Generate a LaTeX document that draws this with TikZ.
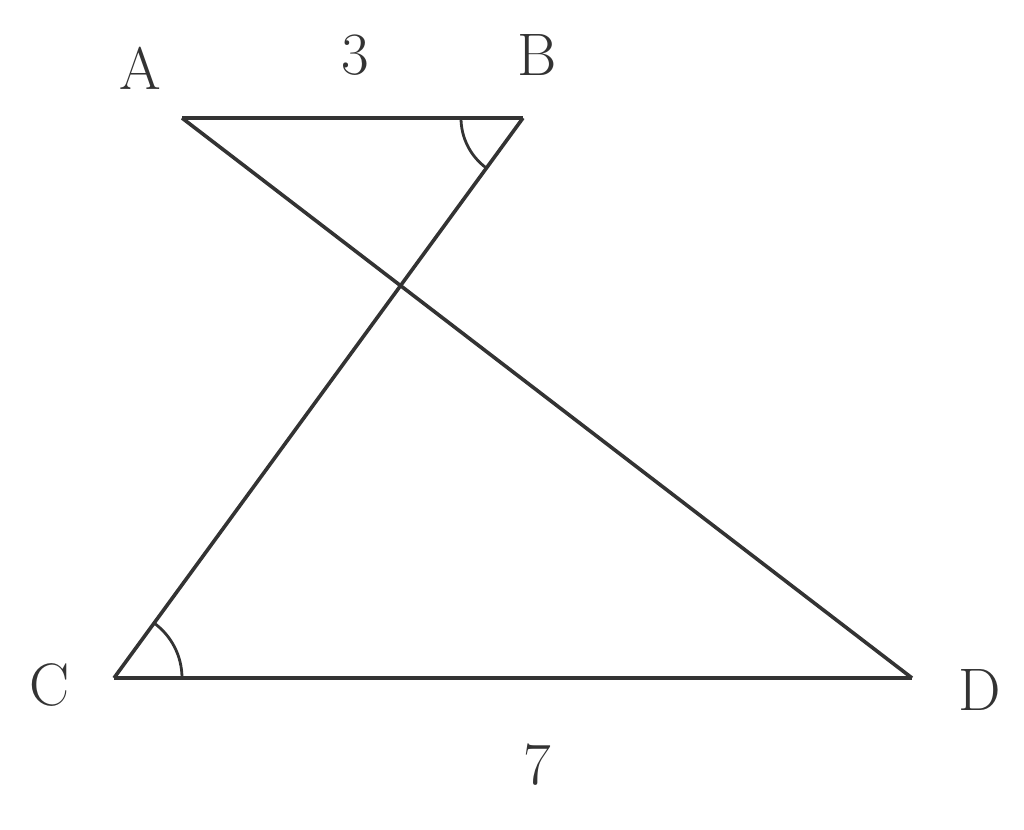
\documentclass[tikz,border=0pt]{standalone}
\usepackage{amsmath}
\usepackage{tikz}

\begin{document}
\begin{tikzpicture}[x=0.5pt,y=0.5pt,line width=1.8pt,draw=black!80,
  lbl/.style={inner sep=0pt,font=\fontsize{30}{36}\selectfont,text=black!80}]
%set diagram frame: 1024 x 830
\useasboundingbox (0,0) rectangle (1024,830);

%Points
\coordinate (A) at (182,712);
\coordinate (B) at (523,712);
\coordinate (C) at (114,152);
\coordinate (D) at (912,152);

%Straight Lines
\draw (A) -- (B);
\draw (B) -- (C);
\draw (A) -- (D);
\draw (C) -- (D);

%Angle marks
\draw[line width=1.4pt] ([shift={(180:62)}]B) arc[start angle=180,end angle=234,radius=62];
\draw[line width=1.4pt] ([shift={(0:68)}]C) arc[start angle=0,end angle=54,radius=68];

% Text Node
\node[lbl] (labA) at (140,762) {A};
% Text Node
\node[lbl] (labB) at (537,775) {B};
% Text Node
\node[lbl] (labAB) at (355,775) {3};
% Text Node
\node[lbl] (labC) at (50,145) {C};
% Text Node
\node[lbl] (labD) at (980,140) {D};
% Text Node
\node[lbl] (labCD) at (537,65) {7};

\end{tikzpicture}
\end{document}
